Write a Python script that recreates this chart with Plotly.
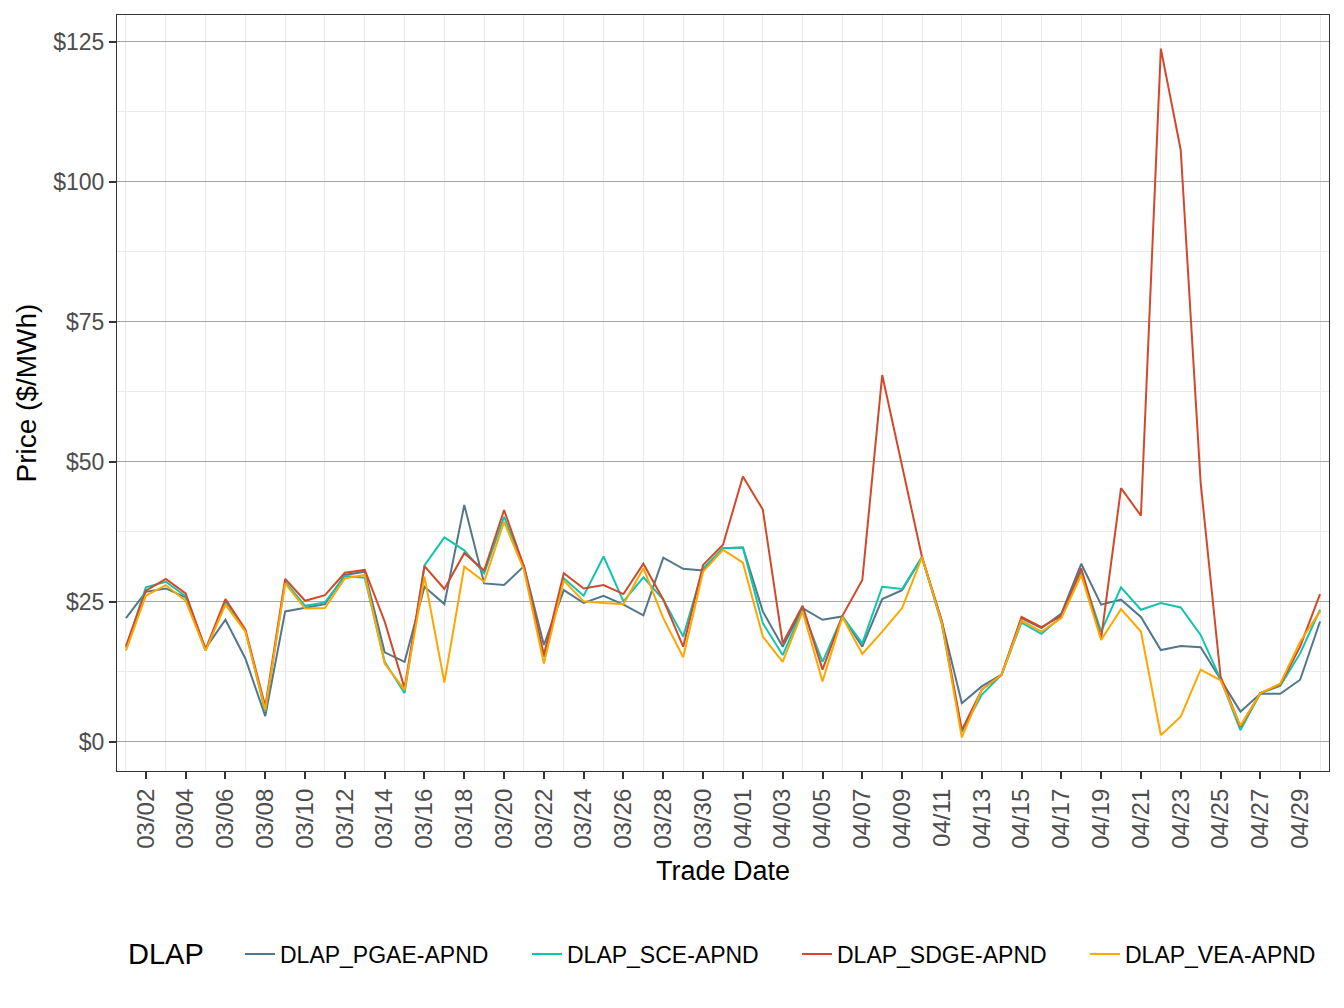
import plotly.graph_objects as go
import pandas as pd

dates = pd.date_range("2023-03-01", "2023-04-30", freq="D")

pgae = [22.1, 26.8, 27.4, 25.8, 16.7, 21.8, 14.9, 4.6, 23.3, 24.0,
        24.6, 29.8, 30.4, 16.0, 14.3, 27.7, 24.6, 42.3, 28.3, 28.0,
        31.4, 17.3, 27.1, 24.8, 26.1, 24.5, 22.6, 32.9, 30.9, 30.6,
        34.6, 34.7, 23.3, 17.0, 23.9, 21.8, 22.4, 17.0, 25.5, 27.1,
        33.0, 21.5, 6.9, 9.9, 12.0, 22.1, 20.3, 22.9, 31.8, 24.5,
        25.4, 22.3, 16.4, 17.1, 16.9, 11.2, 5.4, 8.6, 8.6, 11.1, 21.5]
sce = [16.8, 27.6, 28.6, 26.0, 16.3, 25.0, 19.9, 5.4, 28.6, 24.3,
       24.9, 29.6, 29.3, 14.3, 8.7, 31.5, 36.5, 34.2, 30.1, 40.2,
       31.0, 15.2, 29.2, 26.1, 33.1, 25.1, 29.4, 25.4, 18.8, 31.0,
       34.6, 34.7, 21.2, 15.5, 23.6, 14.3, 22.4, 17.6, 27.7, 27.3,
       33.0, 20.9, 1.8, 8.4, 12.0, 21.3, 19.3, 22.3, 30.4, 19.7,
       27.6, 23.6, 24.8, 24.0, 19.1, 11.2, 2.1, 8.7, 10.0, 15.8, 23.6]
sdge = [17.1, 27.0, 29.1, 26.5, 16.5, 25.5, 20.1, 6.3, 29.1, 25.2,
        26.2, 30.2, 30.7, 21.5, 9.6, 31.4, 27.3, 33.7, 30.6, 41.4,
        31.3, 15.5, 30.1, 27.4, 28.0, 26.4, 31.8, 25.4, 17.0, 31.6,
        35.2, 47.4, 41.5, 17.6, 24.3, 12.9, 22.5, 28.9, 65.5, 49.2,
        33.0, 21.5, 2.1, 9.3, 12.0, 22.3, 20.5, 22.5, 31.0, 18.5,
        45.3, 40.4, 123.8, 105.7, 46.3, 11.7, 2.7, 8.7, 10.2, 17.0, 26.4]
vea = [16.3, 26.1, 28.0, 25.2, 16.3, 24.5, 19.7, 5.7, 28.3, 23.8,
       23.9, 29.2, 29.8, 14.0, 9.3, 29.5, 10.6, 31.3, 28.6, 39.3,
       30.7, 14.0, 28.8, 25.1, 24.8, 24.6, 31.0, 22.1, 15.1, 30.4,
       34.3, 32.0, 18.8, 14.3, 23.3, 10.8, 22.3, 15.7, 19.7, 23.9,
       33.0, 21.2, 0.8, 9.3, 12.0, 21.7, 19.7, 22.1, 29.8, 18.2,
       23.7, 19.7, 1.2, 4.5, 12.9, 11.0, 2.9, 8.7, 10.4, 17.9, 23.3]

series_names = ["DLAP_PGAE-APND", "DLAP_SCE-APND", "DLAP_SDGE-APND", "DLAP_VEA-APND"]
series_values = [pgae, sce, sdge, vea]
colors = ["#52778B", "#12C4AE", "#D2482A", "#FFA600"]
legend_ids = ["legend", "legend2", "legend3", "legend4"]
legend_title = "DLAP"

y_tickvals = [0, 25, 50, 75, 100, 125]
y_ticktext = ["$0", "$25", "$50", "$75", "$100", "$125"]

FONT = "Liberation Sans, Arial, sans-serif"

fig = go.Figure()
for name, vals, col, lg in zip(series_names, series_values, colors, legend_ids):
    fig.add_trace(go.Scatter(x=dates, y=vals, mode="lines", name=name, legend=lg,
                             line=dict(color=col, width=2)))

DAY = 86400000
PLOT_L, PLOT_W = 117, 1212
LEG_Y = -0.242


def px_to_frac(px):
    return (px - PLOT_L) / PLOT_W


def legend_box(xpx):
    return dict(orientation="h", x=px_to_frac(xpx), xanchor="left", y=LEG_Y, yanchor="middle",
                font=dict(size=23, color="black", family=FONT), itemwidth=30,
                bgcolor="rgba(0,0,0,0)", borderwidth=0)


fig.add_annotation(text=legend_title, xref="paper", yref="paper",
                   x=px_to_frac(126), xanchor="left", y=LEG_Y, yanchor="middle",
                   showarrow=False, font=dict(size=29, color="black", family=FONT))

fig.update_layout(
    width=1344, height=1008,
    margin=dict(l=117, r=15, t=15, b=237, autoexpand=False),
    paper_bgcolor="white", plot_bgcolor="white",
    font=dict(family=FONT, color="black"),
    showlegend=True,
    legend=legend_box(240),
    legend2=legend_box(527),
    legend3=legend_box(797),
    legend4=legend_box(1085),
    xaxis=dict(
        type="date",
        range=["2023-02-28 13:12", "2023-04-30 10:48"],
        tickmode="linear", tick0="2023-03-02", dtick=2 * DAY,
        tickformat="%m/%d", tickangle=-90,
        tickfont=dict(size=24, color="#4D4D4D", family=FONT),
        ticks="outside", ticklen=7, tickwidth=2, tickcolor="#333333",
        showgrid=False,
        minor=dict(tickmode="linear", tick0="2023-03-01", dtick=2 * DAY,
                   showgrid=True, gridcolor="#EBEBEB", gridwidth=1, ticks=""),
        showline=True, linecolor="#333333", linewidth=1.2, mirror=True,
        zeroline=False,
        title=dict(text="Trade Date", font=dict(size=27, color="black", family=FONT), standoff=13),
        automargin=False,
    ),
    yaxis=dict(
        range=[-5.2, 129.8],
        tickmode="array", tickvals=y_tickvals, ticktext=y_ticktext,
        tickfont=dict(size=23, color="#4D4D4D", family=FONT),
        ticks="outside", ticklen=7, tickwidth=2, tickcolor="#333333",
        showgrid=True, gridcolor="#A6A6A6", gridwidth=1,
        minor=dict(tickmode="array", tickvals=[12.5, 37.5, 62.5, 87.5, 112.5],
                   showgrid=True, gridcolor="#EBEBEB", gridwidth=1, ticks=""),
        showline=True, linecolor="#333333", linewidth=1.2, mirror=True,
        zeroline=False,
        title=dict(text="Price ($/MWh)", font=dict(size=28, color="black", family=FONT), standoff=8),
        automargin=False,
    ),
)

fig.write_html("out.html")
